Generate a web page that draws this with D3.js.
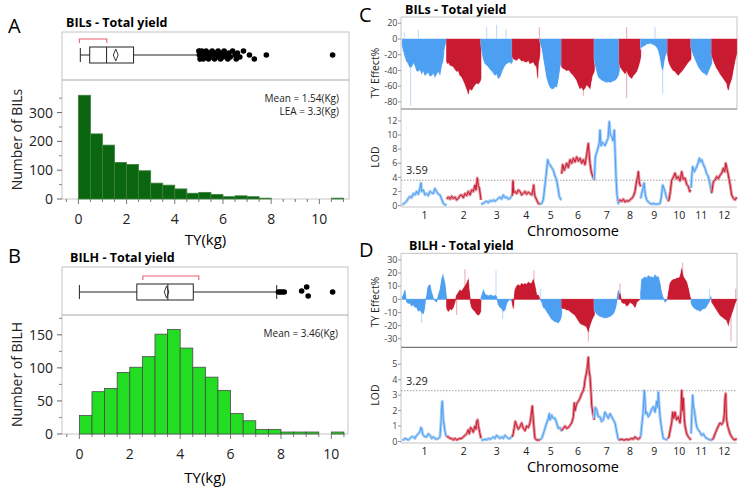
<!DOCTYPE html>
<html><head><meta charset="utf-8">
<script src="https://cdn.jsdelivr.net/npm/d3@7"></script>
<style>body{margin:0;background:#fff}svg{display:block}text{font-family:"Open Sans",sans-serif}</style>
</head><body><svg id="c" width="741" height="489"></svg>
<script>
// ---------------- DATA ----------------
const binWidth = 0.5;
const countsA = [360,226,187,127,120,98,55,48,35,20,23,16,8,11,8,3,0,0,0,0,0,3];
const countsB = [28,64,69,93,101,117,151,158,130,101,86,66,31,20,7,7,3,3,3,0,3];
const boxA = {min:0.08, q1:0.47, median:1.17, q3:2.29, max:5.03, mean:1.55, ciLo:1.45, ciHi:1.65, shortLo:0.04, shortHi:1.18};
const boxB = {min:0.0, q1:2.28, median:3.51, q3:4.52, max:7.83, mean:3.46, ciLo:3.37, ciHi:3.55, shortLo:2.52, shortHi:4.74};
const outliersA = [5.0,5.02,5.05,5.08,5.1,5.12,5.15,5.18,5.2,5.25,5.3,5.35,5.4,5.45,5.5,5.55,5.6,5.65,5.7,5.75,5.8,5.85,5.9,5.95,6.0,6.05,6.1,6.2,6.25,6.3,6.4,6.5,6.55,6.6,6.7,6.85,7.1,7.3,7.8,10.55];
const outliersB = [7.9,7.97,8.05,8.13,8.82,9.02,9.08,10.05];
const statsA = ["Mean = 1.54(Kg)","LEA = 3.3(Kg)"];
const statsB = ["Mean = 3.46(Kg)"];
const ticksHistX = [0,2,4,6,8,10];
const ticksA_Y = [0,100,200,300];
const ticksB_Y = [0,50,100,150];

const chrNames = ["1","2","3","4","5","6","7","8","9","10","11","12"];
const chrLen = [133,103,94,83,65,98,75,64,81,70,62,75];
const thresholdC = 3.59, thresholdD = 3.29;
const ticksEffC = [20,0,-20,-40,-60,-80];
const ticksLodC = [0,2,4,6,8,10,12];
const ticksEffD = [30,20,10,0,-10,-20,-30];
const ticksLodD = [0,1,2,3,4,5];

const effectC = [
 [[0,-8],[3,-14],[8,-22],[13,-28],[18,-31],[23,-36],[28,-35],[33,-30],[38,-33],[43,-40],[48,-41],[53,-38],[58,-44],[63,-40],[68,-46],[73,-44],[78,-42],[83,-47],[88,-46],[93,-43],[98,-48],[103,-44],[108,-41],[113,-45],[118,-33],[122,-28],[125,-14],[129,-6],[133,-1]],
 [[0,-28],[2,-31],[6,-30],[10,-33],[15,-34],[20,-35],[25,-38],[30,-41],[35,-40],[40,-46],[45,-48],[50,-52],[55,-57],[60,-63],[63,-66],[65,-70],[68,-64],[70,-63],[75,-65],[80,-61],[85,-58],[90,-56],[95,-57],[100,-54],[103,-50]],
 [[0,-5],[2,-14],[7,-25],[12,-31],[17,-33],[22,-35],[27,-38],[32,-40],[37,-43],[42,-46],[47,-44],[52,-50],[57,-48],[62,-42],[67,-37],[72,-33],[77,-31],[82,-30],[87,-29],[91,-31],[94,-29]],
 [[0,-22],[3,-25],[8,-26],[13,-27],[18,-24],[23,-25],[28,-28],[33,-27],[38,-29],[43,-29],[48,-27],[53,-31],[58,-30],[63,-29],[68,-33],[73,-35],[76,-50],[78,-30],[81,-25],[83,-15]],
 [[0,-3],[2,-6],[6,-12],[10,-22],[15,-35],[20,-48],[25,-56],[30,-61],[35,-63],[40,-63],[45,-60],[50,-61],[55,-50],[60,-35],[65,-28]],
 [[0,-35],[3,-37],[9,-38],[15,-40],[20,-39],[25,-41],[30,-44],[35,-46],[40,-49],[45,-52],[50,-58],[55,-63],[60,-61],[65,-65],[70,-62],[75,-58],[80,-60],[85,-63],[88,-55],[92,-46],[95,-44],[98,-40]],
 [[0,-25],[2,-31],[7,-40],[12,-48],[17,-50],[22,-52],[27,-53],[32,-54],[37,-55],[42,-54],[47,-55],[52,-54],[57,-53],[62,-52],[67,-50],[72,-46],[75,-40]],
 [[0,-30],[2,-35],[7,-38],[12,-41],[17,-44],[22,-40],[27,-45],[32,-48],[37,-50],[42,-46],[47,-44],[52,-41],[57,-35],[62,-27],[64,-22]],
 [[0,-12],[3,-10],[8,-9],[13,-8],[18,-6],[23,-6],[28,-5],[33,-6],[38,-7],[43,-8],[48,-10],[53,-14],[58,-22],[63,-35],[66,-40],[70,-28],[73,-22],[77,-18],[81,-10]],
 [[0,-20],[2,-27],[7,-33],[12,-37],[17,-40],[22,-41],[27,-44],[32,-46],[37,-43],[42,-41],[47,-38],[52,-35],[57,-32],[62,-29],[67,-27],[70,-25]],
 [[0,-10],[2,-14],[7,-20],[12,-25],[17,-30],[22,-35],[27,-38],[32,-41],[37,-43],[42,-44],[47,-46],[52,-41],[57,-36],[62,-31]],
 [[0,-20],[5,-27],[10,-32],[15,-37],[20,-40],[25,-44],[30,-47],[35,-50],[40,-53],[45,-56],[48,-62],[50,-65],[53,-58],[56,-55],[60,-50],[65,-38],[70,-27],[75,-18]]
];
const spikesC = [[0,25,-85],[0,6,8],[0,48,12],[2,17,15],[2,47,18],[2,75,12],[3,81,15],[5,65,-72],[7,22,-75],[7,22,15],[8,43,15],[8,66,-70]];

const lodC = [
 [[0,0.1],[3,0.2],[8,0.4],[13,0.6],[18,1.0],[23,1.3],[28,1.1],[33,1.7],[38,1.5],[43,2.0],[48,1.6],[53,2.5],[56,3.2],[58,2.0],[63,2.2],[68,1.5],[73,1.7],[78,1.4],[83,2.0],[88,1.8],[93,1.7],[98,2.4],[103,2.0],[108,1.6],[113,1.5],[118,0.9],[123,0.3],[128,0.1],[133,0.1]],
 [[0,0.9],[5,1.2],[10,0.9],[15,1.3],[20,1.0],[25,1.2],[30,0.8],[35,1.0],[40,1.4],[45,1.5],[50,1.1],[55,1.7],[60,1.4],[65,2.0],[70,1.5],[75,2.2],[80,2.0],[85,2.9],[88,2.2],[92,3.9],[95,2.8],[98,2.5],[101,1.5],[103,0.8]],
 [[0,0.2],[7,0.3],[12,0.5],[17,0.6],[22,0.4],[27,0.7],[32,0.6],[37,0.8],[42,0.6],[47,0.8],[52,1.0],[57,1.2],[62,0.9],[67,1.5],[72,1.1],[77,1.2],[82,0.9],[87,1.0],[91,1.3],[94,1.5]],
 [[0,1.4],[2,3.5],[4,1.8],[8,2.0],[13,1.7],[18,2.2],[23,2.0],[28,1.5],[33,1.7],[38,2.0],[43,1.6],[48,1.9],[53,1.7],[58,1.5],[62,2.2],[64,2.9],[66,1.8],[68,1.3],[73,0.8],[78,0.3],[83,0.2]],
 [[0,0.2],[5,0.3],[10,0.8],[14,2.5],[18,4.1],[21,5.5],[23,6.5],[26,6.0],[30,5.8],[35,5.4],[40,5.0],[45,4.2],[50,3.6],[54,2.5],[58,1.3],[62,0.9],[65,0.8]],
 [[0,4.5],[3,5.8],[8,5.0],[12,5.6],[15,6.0],[20,5.4],[25,6.5],[30,6.0],[35,6.7],[40,6.2],[45,6.9],[50,6.3],[55,6.7],[60,6.0],[65,6.5],[70,5.8],[75,7.2],[80,8.8],[83,7.0],[85,6.0],[88,5.0],[90,4.6],[94,4.0],[98,3.6]],
 [[0,3.6],[3,6.9],[7,7.5],[12,8.3],[15,9.0],[17,10.7],[20,8.5],[24,9.0],[27,8.8],[32,8.5],[37,9.1],[41,9.5],[45,11.9],[48,10.0],[52,9.8],[56,9.2],[60,10.7],[62,8.0],[65,4.1],[68,1.5],[72,0.3],[75,0.5]],
 [[0,0.6],[2,0.8],[7,0.6],[12,0.9],[17,0.5],[22,0.7],[27,0.6],[32,0.8],[37,1.0],[42,1.3],[47,2.0],[52,3.6],[55,4.0],[57,4.8],[60,3.2],[64,2.7]],
 [[0,1.0],[3,1.7],[7,2.5],[10,3.2],[14,1.5],[18,0.8],[23,0.5],[28,0.3],[33,0.2],[38,0.3],[43,0.2],[48,0.2],[53,0.2],[58,0.3],[62,1.2],[66,2.9],[70,2.4],[73,2.0],[77,1.2],[81,0.8]],
 [[0,0.6],[4,0.8],[8,2.0],[12,3.6],[17,4.0],[22,4.6],[27,3.8],[32,4.1],[37,3.5],[42,4.8],[47,3.7],[52,3.9],[57,3.0],[62,2.7],[66,2.0],[70,2.2]],
 [[0,2.5],[3,4.5],[5,5.5],[10,4.8],[14,5.2],[17,5.5],[21,6.0],[25,6.7],[28,6.2],[32,6.5],[37,5.8],[42,5.3],[47,4.5],[52,4.1],[57,3.0],[62,1.7]],
 [[0,1.8],[5,3.4],[10,3.6],[15,4.1],[20,3.8],[25,4.3],[30,4.6],[35,5.3],[39,4.8],[42,6.0],[46,5.2],[50,4.3],[55,3.0],[60,1.5],[65,1.0],[70,0.8],[75,1.2]]
];

const effectD = [
 [[0,2],[3,3],[8,7],[11,1],[13,-2],[18,-3],[23,-3],[28,-5],[33,-4],[38,-6],[43,-6],[48,-9],[53,-8],[58,-10],[63,-11],[66,-8],[70,0],[73,2],[76,8],[78,10],[83,11],[87,6],[93,1],[98,-1],[103,-2],[107,2],[113,7],[118,15],[121,18],[123,17],[128,12],[131,5],[133,0]],
 [[0,-6],[2,-8],[6,-9],[10,-7],[15,-8],[20,-6],[25,-2],[30,3],[35,5],[40,7],[45,6],[50,8],[55,10],[60,12],[63,14],[65,15],[67,8],[70,2],[72,-3],[75,-6],[80,-8],[85,-9],[90,-11],[95,-12],[99,-11],[102,-9],[103,-2]],
 [[0,1],[4,4],[7,7],[12,4],[17,3],[22,2.5],[27,3],[32,3],[37,2],[42,3],[47,2],[50,-2],[52,-4],[57,-6],[62,-7],[67,-9],[72,-8],[75,-5],[77,-3],[82,-1],[87,0],[91,-1],[94,-2]],
 [[0,-3],[3,-7],[6,2],[8,7],[13,10],[18,11],[23,10],[28,12],[33,11],[38,12],[43,11],[48,13],[53,12],[58,12],[61,14],[63,15],[66,12],[68,10],[71,6],[73,3],[78,3],[83,0]],
 [[0,0],[5,-2],[10,-6],[15,-7],[20,-9],[25,-11],[30,-13],[35,-15],[40,-16],[45,-17],[50,-17],[55,-18],[60,-16],[63,-14],[65,-11]],
 [[0,-6],[3,-7],[9,-7],[15,-8],[20,-8],[25,-9],[30,-10],[35,-11],[40,-12],[45,-14],[50,-16],[55,-18],[60,-19],[65,-19.5],[70,-20],[75,-21],[78,-23],[80,-25],[82,-22],[85,-19.5],[90,-16],[95,-13],[98,-12]],
 [[0,-8],[2,-9],[7,-11],[12,-12],[17,-13],[22,-13],[27,-14],[32,-13.7],[37,-14],[42,-13.5],[47,-13],[52,-12],[57,-11],[62,-8],[66,-4],[69,2],[72,7],[75,4]],
 [[0,4],[2,4.5],[5,1],[7,-2],[12,-3],[17,-3],[22,-5],[27,-4],[32,-2],[37,-3],[42,-4],[47,-6],[50,-4],[52,-2],[57,-1],[62,0],[64,0]],
 [[0,5],[3,15],[8,16],[13,17],[18,16],[23,18],[28,17],[33,17],[38,16],[43,18.5],[48,17],[53,17],[56,14],[58,12],[62,6],[66,2],[68,1],[73,-2],[77,-1],[81,0]],
 [[0,1],[2,4.5],[5,9],[7,12],[12,14],[17,15],[22,15],[27,16],[32,16],[37,17],[40,20],[42,23.5],[45,19],[47,17],[52,15],[57,13],[62,8],[67,2],[70,0]],
 [[0,-2],[2,-4],[7,-6],[12,-7],[17,-8],[22,-8],[27,-9],[32,-8],[37,-7],[42,-7],[47,-5],[52,-3],[56,-1],[59,2],[62,0]],
 [[0,-2],[5,-4],[10,-6],[15,-8],[20,-10],[25,-12],[30,-13],[35,-14],[40,-15],[45,-16],[48,-18],[50,-19.5],[53,-16],[57,-13],[61,-10],[65,-7],[70,-3],[75,0]]
];
const spikesD = [[0,58,-18],[0,123,20],[1,55,23],[1,30,-12],[2,45,22],[2,65,-15],[3,65,22],[4,2,8],[5,80,-32],[7,2,12],[9,45,28],[10,55,8],[11,58,-32],[11,72,8]];

const lodD = [
 [[0,0.1],[3,0.1],[8,0.2],[13,0.15],[18,0.1],[23,0.2],[28,0.3],[33,0.3],[38,0.2],[43,0.4],[48,0.5],[53,0.65],[56,0.9],[58,0.85],[61,0.5],[63,0.4],[68,0.3],[73,0.3],[78,0.5],[83,0.4],[88,0.2],[93,0.3],[98,0.2],[103,0.15],[108,0.2],[113,0.3],[116,1.2],[118,2.15],[120,2.6],[123,1.4],[126,1.0],[128,0.65],[131,0.4],[133,0.3]],
 [[0,0.3],[5,0.3],[10,0.2],[15,0.2],[20,0.1],[25,0.2],[30,0.1],[35,0.15],[40,0.2],[45,0.2],[50,0.3],[55,0.4],[60,0.5],[65,0.75],[68,0.5],[72,0.9],[75,0.85],[80,0.6],[85,1.0],[88,0.8],[90,1.3],[93,1.4],[95,1.05],[99,0.6],[103,0.2]],
 [[0,0.1],[7,0.1],[12,0.15],[17,0.1],[22,0.2],[27,0.15],[32,0.2],[37,0.3],[42,0.2],[47,0.4],[52,0.3],[57,0.2],[62,0.3],[67,0.2],[72,0.4],[77,0.3],[82,0.2],[87,0.2],[91,0.3],[94,0.4]],
 [[0,0.3],[3,0.55],[6,0.9],[9,1.3],[13,1.05],[18,0.8],[23,0.95],[28,1.2],[33,0.85],[38,0.7],[43,1.0],[48,0.9],[53,1.2],[56,1.6],[58,2.0],[60,2.3],[63,1.4],[66,0.6],[68,0.2],[73,0.1],[78,0.1],[83,0.1]],
 [[0,0.1],[5,0.2],[10,0.5],[15,0.85],[20,1.2],[25,1.5],[28,1.8],[30,1.4],[35,1.7],[40,1.5],[45,1.5],[50,1.2],[55,0.85],[60,0.9],[65,0.65]],
 [[0,0.7],[5,0.85],[10,1.0],[15,0.85],[20,0.9],[25,1.05],[30,1.2],[35,1.6],[38,2.5],[40,2.0],[45,2.45],[50,2.6],[55,2.8],[60,3.1],[65,3.3],[68,3.6],[70,4.0],[73,4.3],[75,4.5],[78,5.0],[80,5.45],[82,4.6],[85,4.2],[88,3.2],[90,2.35],[94,1.8],[98,1.4]],
 [[0,1.5],[3,2.2],[7,2.05],[12,1.6],[17,1.6],[22,1.3],[27,1.4],[32,1.9],[37,1.7],[42,1.5],[47,1.8],[52,1.6],[57,1.4],[62,1.2],[67,0.65],[71,0.2],[75,0.05]],
 [[0,0.1],[7,0.15],[12,0.1],[17,0.1],[22,0.15],[27,0.1],[32,0.15],[37,0.2],[42,0.15],[47,0.3],[52,0.2],[57,0.15],[64,0.3]],
 [[0,0.3],[3,1.0],[7,1.8],[11,3.3],[13,2.7],[15,1.8],[18,1.9],[23,1.6],[28,1.8],[33,2.1],[38,2.25],[43,1.9],[48,2.6],[51,2.2],[53,3.2],[55,2.5],[58,1.6],[63,0.8],[68,0.2],[74,0.15],[81,0.1]],
 [[0,0.2],[4,0.3],[8,0.8],[12,1.2],[15,1.9],[18,1.5],[22,1.9],[27,1.4],[32,1.6],[37,1.2],[40,2.0],[42,3.3],[45,2.0],[47,2.8],[50,1.5],[52,1.0],[57,0.5],[62,0.3],[66,0.2],[70,0.1]],
 [[0,0.5],[2,1.6],[4,2.5],[5,3.0],[7,2.3],[10,2.0],[12,1.7],[15,1.2],[18,0.9],[22,0.75],[27,0.6],[32,0.4],[37,0.5],[42,0.3],[47,0.2],[52,0.15],[57,0.1],[62,0.1]],
 [[0,0.1],[5,0.2],[10,0.5],[15,0.75],[20,1.0],[25,1.2],[30,1.1],[35,1.3],[38,1.8],[40,2.8],[42,3.1],[44,1.6],[45,1.4],[48,1.0],[50,0.85],[55,0.5],[60,0.3],[65,0.15],[70,0.1],[75,0.2]]
];

// ---------------- DRAW ----------------
const svg = d3.select("#c");
const FRAME = "#c4c4c4";
const BLUE = "#4d9ff2", RED = "#c81a30", BLUE_L = "#a9cff7", RED_L = "#e3909b";

function txt(x,y,s,opt={}){
  const t = svg.append("text").attr("x",x).attr("y",y).text(s)
    .attr("font-size",opt.size||12).attr("fill",opt.fill||"#000")
    .attr("text-anchor",opt.anchor||"start");
  if(opt.bold) t.attr("font-weight","bold");
  if(opt.rot) t.attr("transform",`rotate(-90,${x},${y})`);
  return t;
}

// Panel letters
txt(8,33,"A",{size:20}); txt(8,263,"B",{size:20});
txt(359,22,"C",{size:20}); txt(359,257,"D",{size:20});

function histPanel(cfg){
  const {x0,x1,top,sep,bottom,dom,yMax,counts,box,outliers,fill,stroke,title,stats,yTicks,yMinor,ylabel,jit} = cfg;
  const x = d3.scaleLinear().domain(dom).range([x0,x1]);
  const y = d3.scaleLinear().domain([0,yMax]).range([bottom,sep]);
  txt(cfg.titleX, top-5, title, {size:12.5,bold:true});
  svg.append("rect").attr("x",x0).attr("y",top).attr("width",x1-x0).attr("height",bottom-top)
    .attr("fill","none").attr("stroke",FRAME);
  svg.append("line").attr("x1",x0).attr("x2",x1).attr("y1",sep).attr("y2",sep).attr("stroke","#a8a8a8");
  svg.append("g").selectAll("rect").data(counts).join("rect")
    .attr("x",(d,i)=>x(i*binWidth)).attr("width",(d,i)=>x((i+1)*binWidth)-x(i*binWidth))
    .attr("y",d=>y(d)).attr("height",d=>y(0)-y(d))
    .attr("fill",fill).attr("stroke",stroke).attr("stroke-width",0.8)
    .style("display",d=>d>0?null:"none");
  yTicks.forEach(v=>{
    svg.append("line").attr("x1",x0-5).attr("x2",x0).attr("y1",y(v)).attr("y2",y(v)).attr("stroke","#666");
    txt(x0-9,y(v)+5,v,{size:14,anchor:"end",fill:"#222"});
  });
  yMinor.forEach(v=>{
    svg.append("line").attr("x1",x0-3).attr("x2",x0).attr("y1",y(v)).attr("y2",y(v)).attr("stroke","#888");
  });
  d3.range(-0.5, dom[1], 0.5).forEach(v=>{
    const major = ticksHistX.includes(v);
    svg.append("line").attr("x1",x(v)).attr("x2",x(v)).attr("y1",bottom).attr("y2",bottom+(major?5:3)).attr("stroke","#777");
  });
  ticksHistX.forEach(v=>txt(x(v),bottom+25,v,{size:14,anchor:"middle",fill:"#222"}));
  txt((x0+x1)/2,bottom+cfg.xlabDy,"TY(kg)",{size:15,anchor:"middle"});
  txt(cfg.ylabX,(sep+bottom)/2,ylabel,{size:14,anchor:"middle",rot:true,fill:"#222"});
  stats.forEach((s,i)=>txt(x1-10,sep+22+i*13,s,{size:10,anchor:"end",fill:"#222"}));
  const cy = cfg.boxCy, h = 7;
  svg.append("line").attr("x1",x(box.min)).attr("x2",x(box.max)).attr("y1",cy).attr("y2",cy).attr("stroke","#222");
  [box.min,box.max].forEach(v=>svg.append("line").attr("x1",x(v)).attr("x2",x(v)).attr("y1",cy-h).attr("y2",cy+h).attr("stroke","#222"));
  svg.append("rect").attr("x",x(box.q1)).attr("y",cy-h-1).attr("width",x(box.q3)-x(box.q1)).attr("height",2*h+2)
    .attr("fill","#fff").attr("stroke","#222");
  svg.append("line").attr("x1",x(box.median)).attr("x2",x(box.median)).attr("y1",cy-h-1).attr("y2",cy+h+1).attr("stroke","#222");
  svg.append("path").attr("d",`M${x(box.ciLo)},${cy}L${x(box.mean)},${cy-6}L${x(box.ciHi)},${cy}L${x(box.mean)},${cy+6}Z`)
    .attr("fill","none").attr("stroke","#222").attr("stroke-width",0.9);
  const by = cy-16;
  svg.append("path").attr("d",`M${x(box.shortLo)},${by+4}V${by}H${x(box.shortHi)}V${by+4}`)
    .attr("fill","none").attr("stroke","#e8606c").attr("stroke-width",1.1);
  svg.append("g").selectAll("circle").data(outliers).join("circle")
    .attr("cx",d=>x(d)).attr("cy",(d,i)=>cy+jit(i)).attr("r",2.8).attr("fill","#000");
}

histPanel({x0:62,x1:349,top:32,sep:80,bottom:199,dom:[-0.68,11.23],yMax:413,counts:countsA,box:boxA,
  outliers:outliersA,fill:"#0a660f",stroke:"#3f7f3f",title:"BILs - Total yield",titleX:66,stats:statsA,
  yTicks:ticksA_Y,yMinor:[50,150,250,350],ylabel:"Number of BILs",ylabX:22,boxCy:55,xlabDy:46,
  jit:i=>(outliersA[i]>7.5?0:(((i*7)%5)-2)*2)});
histPanel({x0:62,x1:348,top:267,sep:315,bottom:434,dom:[-0.69,10.66],yMax:180,counts:countsB,box:boxB,
  outliers:outliersB,fill:"#22dd22",stroke:"#4a4a4a",title:"BILH - Total yield",titleX:70,stats:statsB,
  yTicks:ticksB_Y,yMinor:[25,75,125,175],ylabel:"Number of BILH",ylabX:22,boxCy:292,xlabDy:49,
  jit:i=>[0,0,0,0,-1,-5,4,0][i]});

// ---------------- Genome panels ----------------
const offsets = [0]; chrLen.forEach((l,i)=>offsets.push(offsets[i]+l));
const total = offsets[offsets.length-1];
const xG = d3.scaleLinear().domain([0,total]).range([402.3,736.7]);
const colOf = i => i%2===0 ? BLUE : RED;
const colLOf = i => i%2===0 ? BLUE_L : RED_L;

function genomePanel(cfg){
  const {top,sep,lodBottom,effDom,lodMax,eff,lod,spikes,effTicks,lodTicks,thr,title,titleX} = cfg;
  const yE = d3.scaleLinear().domain(effDom).range([sep,top]);
  const yL = d3.scaleLinear().domain([0,lodMax]).range([lodBottom-1.5,sep]);
  const L = 401, R = 737;
  txt(titleX, top-3, title, {size:12.5,bold:true});
  svg.append("path").attr("d",`M${L},${sep}V${top}H${R}V${sep}`).attr("fill","none").attr("stroke",FRAME);
  spikes.forEach(([c,p,v])=>{
    svg.append("line").attr("x1",xG(offsets[c]+p)).attr("x2",xG(offsets[c]+p))
      .attr("y1",yE(0)).attr("y2",yE(v)).attr("stroke",colLOf(c)).attr("stroke-width",0.8);
  });
  eff.forEach((pts,c)=>{
    const area = d3.area().x(d=>xG(offsets[c]+d[0])).y0(yE(0)).y1(d=>yE(d[1]));
    svg.append("path").attr("d",area(pts)).attr("fill",colOf(c))
      .attr("stroke",colLOf(c)).attr("stroke-width",1.2).attr("paint-order","stroke");
    svg.append("path").attr("d",area(pts)).attr("fill",colOf(c)).attr("stroke","none");
  });
  svg.append("line").attr("x1",L).attr("x2",R).attr("y1",sep).attr("y2",sep).attr("stroke","#777").attr("stroke-width",1.2);
  effTicks.forEach(v=>{
    svg.append("line").attr("x1",L-3).attr("x2",L).attr("y1",yE(v)).attr("y2",yE(v)).attr("stroke","#999");
    txt(L-3.5,yE(v)+3.2,v,{size:9,anchor:"end",fill:"#444"});
  });
  svg.append("line").attr("x1",L).attr("x2",L).attr("y1",sep).attr("y2",lodBottom).attr("stroke",FRAME);
  svg.append("line").attr("x1",L).attr("x2",R).attr("y1",lodBottom).attr("y2",lodBottom).attr("stroke",FRAME);
  lodTicks.forEach(v=>{
    svg.append("line").attr("x1",L-3).attr("x2",L).attr("y1",yL(v)).attr("y2",yL(v)).attr("stroke","#999");
    txt(L-3.5,yL(v)+3.2,v,{size:9,anchor:"end",fill:"#444"});
  });
  svg.append("line").attr("x1",L).attr("x2",R).attr("y1",yL(thr)).attr("y2",yL(thr))
    .attr("stroke","#888").attr("stroke-width",0.8).attr("stroke-dasharray","1.5,1.5");
  txt(406,yL(thr)-6,thr.toFixed(2),{size:11,fill:"#222"});
  lod.forEach((pts,c)=>{
    const line = d3.line().x(d=>xG(offsets[c]+d[0])).y(d=>yL(d[1]));
    svg.append("path").attr("d",line(pts)).attr("fill","none").attr("stroke",colLOf(c)).attr("stroke-width",3).attr("stroke-linejoin","round");
    svg.append("path").attr("d",line(pts)).attr("fill","none").attr("stroke",colOf(c)).attr("stroke-width",1).attr("stroke-linejoin","round");
  });
  chrNames.forEach((n,i)=>txt(xG(offsets[i]+chrLen[i]/2),lodBottom+11.5,n,{size:10.5,anchor:"middle",fill:"#222"}));
  txt(573,lodBottom+29,"Chromosome",{size:14.5,anchor:"middle"});
  txt(379,cfg.effLabY,"TY Effect%",{size:10.5,anchor:"middle",rot:true,fill:"#222"});
  txt(379,cfg.lodLabY,"LOD",{size:10.5,anchor:"middle",rot:true,fill:"#222"});
}

genomePanel({top:17,sep:109,lodBottom:207,effDom:[-89,28],lodMax:13.7,eff:effectC,lod:lodC,spikes:spikesC,
  effTicks:ticksEffC,lodTicks:ticksLodC,thr:thresholdC,title:"BILs - Total yield",titleX:405,
  effLabY:73,lodLabY:157});
genomePanel({top:253.3,sep:347.3,lodBottom:443,effDom:[-36.5,35],lodMax:6.1,eff:effectD,lod:lodD,spikes:spikesD,
  effTicks:ticksEffD,lodTicks:ticksLodD,thr:thresholdD,title:"BILH - Total yield",titleX:409,
  effLabY:302,lodLabY:395});
</script></body></html>
